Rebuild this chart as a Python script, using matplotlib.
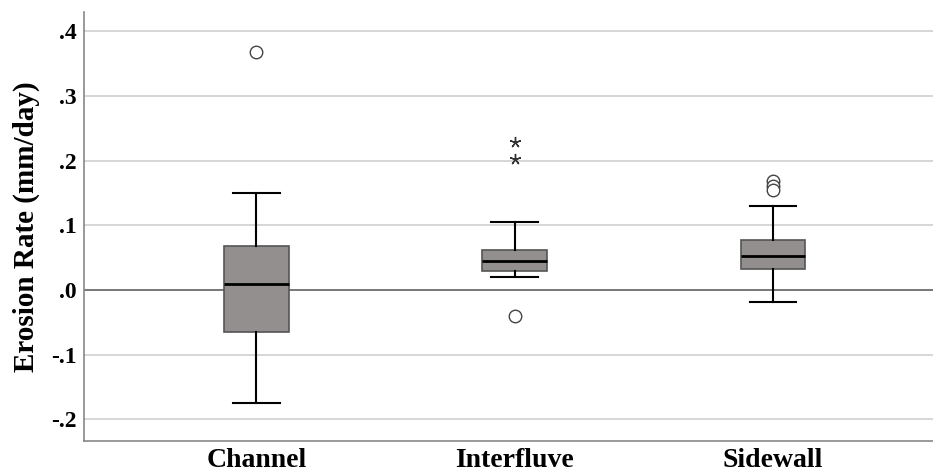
import matplotlib
matplotlib.use('Agg')
import matplotlib.pyplot as plt
from matplotlib.ticker import FuncFormatter

categories = ['Channel', 'Interfluve', 'Sidewall']
whisker_low = [-0.175, 0.020, -0.019]
q1 = [-0.065, 0.029, 0.032]
median = [0.009, 0.045, 0.053]
q3 = [0.068, 0.062, 0.077]
whisker_high = [0.150, 0.105, 0.130]
outliers = [[0.368], [-0.040], [0.169, 0.161, 0.154]]
extremes = [[], [0.229, 0.203], []]

plt.rcParams['font.family'] = ['Liberation Serif', 'DejaVu Serif']

stats = []
for i, name in enumerate(categories):
    stats.append({'label': name, 'whislo': whisker_low[i], 'q1': q1[i],
                  'med': median[i], 'q3': q3[i], 'whishi': whisker_high[i],
                  'fliers': outliers[i]})

fig = plt.figure(figsize=(9.33, 4.75), dpi=100)
ax = fig.add_axes([0.090, 0.072, 0.910, 0.903])

ax.set_axisbelow(True)
ax.yaxis.grid(True, color='#d0d0d0', linewidth=1.2)
ax.axhline(0, color='#707070', linewidth=1.3, zorder=1)

ax.bxp(stats, positions=[1, 2, 3], widths=0.25, patch_artist=True,
       boxprops=dict(facecolor='#948f8f', edgecolor='#555555', linewidth=1.2),
       medianprops=dict(color='black', linewidth=2),
       whiskerprops=dict(color='black', linewidth=1.5),
       capprops=dict(color='black', linewidth=1.5),
       capwidths=0.18,
       flierprops=dict(marker='o', markerfacecolor='white', markeredgecolor='#444444',
                       markersize=9, markeredgewidth=1))

for i, vals in enumerate(extremes):
    if vals:
        ax.plot([i + 1] * len(vals), vals, linestyle='none', marker=(5, 2, 0),
                color='#333333', markersize=8, markeredgewidth=1.0)

ax.set_xlim(0.333, 3.62)
ax.set_ylim(-0.233, 0.43)
ax.set_yticks([-0.2, -0.1, 0.0, 0.1, 0.2, 0.3, 0.4])
ax.yaxis.set_major_formatter(FuncFormatter(
    lambda v, p: ('-' if v < -1e-9 else '') + ('%.1f' % abs(v)).lstrip('0')))
ax.tick_params(axis='both', length=0)
ax.tick_params(axis='y', labelsize=17, pad=5)
ax.tick_params(axis='x', labelsize=20, pad=5)
for lab in ax.get_xticklabels() + ax.get_yticklabels():
    lab.set_fontweight('bold')

ax.set_ylabel('Erosion Rate (mm/day)', fontsize=21, fontweight='bold', labelpad=8)

for s in ['top', 'right']:
    ax.spines[s].set_visible(False)
for s in ['left', 'bottom']:
    ax.spines[s].set_color('#888888')
    ax.spines[s].set_linewidth(1.2)

fig.savefig('out.png', dpi=100)
